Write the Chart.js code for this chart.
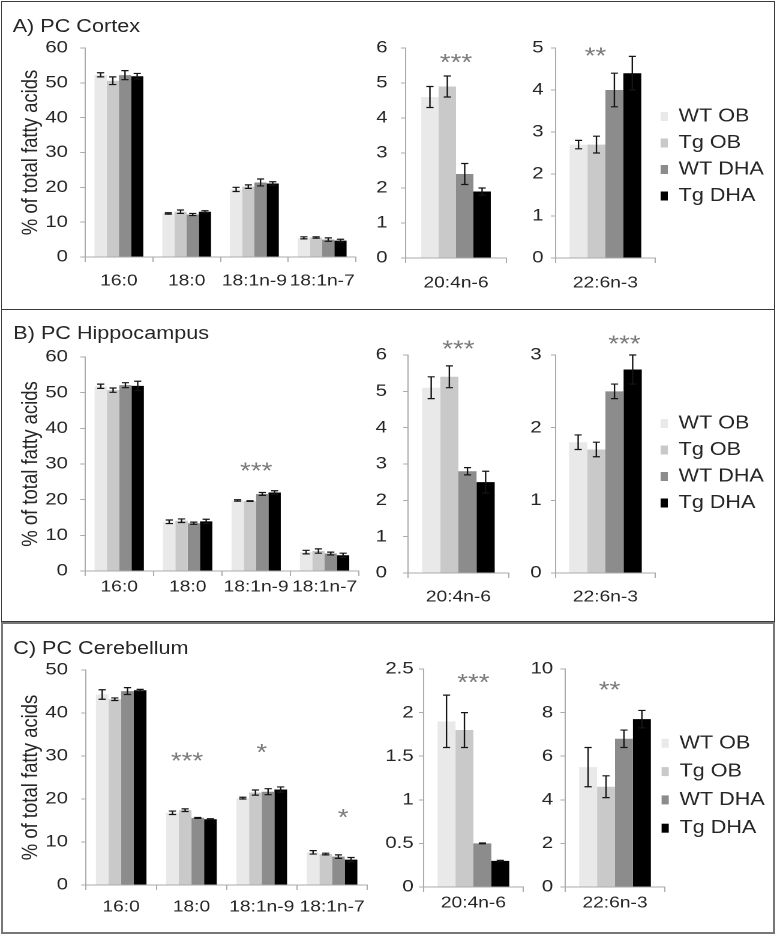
<!DOCTYPE html>
<html>
<head>
<meta charset="utf-8">
<script src="https://cdn.jsdelivr.net/npm/chart.js@4.4.1/dist/chart.umd.min.js"></script>
<style>
  html, body { margin: 0; padding: 0; background: #fff; }
  #page { position: relative; width: 777px; height: 940px; overflow: hidden; background: #fff; }
  .panel { position: absolute; left: 1px; width: 774px; box-sizing: border-box; border: 1px solid #3a3a3a; }
  #stretch { position: absolute; left: 0; top: 0; width: 648px; height: 940px; transform: scaleX(1.2); transform-origin: 0 0; }
  .title { position: absolute; font: 18px "Liberation Sans", Arial, sans-serif; line-height: 20px; color: #262626; white-space: nowrap; }
  canvas { position: absolute; }
</style>
</head>
<body>
<div id="page">
  <div class="panel" style="top:1px;height:309px"></div>
  <div class="panel" style="top:309px;height:313px"></div>
  <div class="panel" style="top:622px;height:312px;border:2px solid #777"></div>
  <div id="stretch">
    <div class="title" style="left:10.6px;top:16px">A) PC Cortex</div>
    <div class="title" style="left:11.1px;top:323px">B) PC Hippocampus</div>
    <div class="title" style="left:11.1px;top:638px">C) PC Cerebellum</div>
    <canvas id="cortexMain"></canvas>
    <canvas id="cortexAAChart"></canvas>
    <canvas id="cortexDHAChart"></canvas>
    <canvas id="cortexLegend"></canvas>
    <canvas id="hippoMain"></canvas>
    <canvas id="hippoAAChart"></canvas>
    <canvas id="hippoDHAChart"></canvas>
    <canvas id="hippoLegend"></canvas>
    <canvas id="cerebMain"></canvas>
    <canvas id="cerebAAChart"></canvas>
    <canvas id="cerebDHAChart"></canvas>
    <canvas id="cerebLegend"></canvas>
  </div>
</div>
<script>
// the original figure is wider than its lettering, so everything is drawn
// in a narrower space and stretched sideways by S
const S = 1.2;
const FONT = '"Liberation Sans", Arial, sans-serif';
const TXT = '#262626';
const AXIS = '#ababab';

const groups = ['WT OB', 'Tg OB', 'WT DHA', 'Tg DHA'];
const groupColors = ['#e9e9e9', '#c9c9c9', '#8c8c8c', '#000000'];
const majorAcids = ['16:0', '18:0', '18:1n-9', '18:1n-7'];

// one row per group, one column per fatty acid
const cortexMajor = [
  [52.3, 12.5, 19.4, 5.5],
  [50.6, 13.0, 20.2, 5.6],
  [52.2, 12.2, 21.4, 5.0],
  [51.9, 13.0, 21.1, 4.7]
];
const cortexMajorSem = [
  [0.6, 0.2, 0.6, 0.3],
  [1.1, 0.5, 0.5, 0.2],
  [1.3, 0.3, 1.0, 0.5],
  [0.8, 0.3, 0.5, 0.4]
];
const cortexAA = [4.6, 4.9, 2.4, 1.9];
const cortexAASem = [0.3, 0.3, 0.3, 0.1];
const cortexDHA = [2.7, 2.7, 4.0, 4.4];
const cortexDHASem = [0.1, 0.2, 0.4, 0.4];

const hippoMajor = [
  [51.8, 13.8, 19.8, 5.3],
  [50.7, 14.1, 19.6, 5.6],
  [52.1, 13.4, 21.6, 4.9],
  [51.9, 13.9, 22.0, 4.4]
];
const hippoMajorSem = [
  [0.6, 0.5, 0.2, 0.5],
  [0.6, 0.5, 0.1, 0.6],
  [0.7, 0.3, 0.4, 0.4],
  [1.3, 0.6, 0.5, 0.6]
];
const hippoAA = [5.1, 5.4, 2.8, 2.5];
const hippoAASem = [0.3, 0.3, 0.1, 0.3];
const hippoDHA = [1.8, 1.7, 2.5, 2.8];
const hippoDHASem = [0.1, 0.1, 0.1, 0.2];

const cerebMajor = [
  [44.3, 16.8, 20.2, 7.6],
  [43.2, 17.4, 21.5, 7.2],
  [45.1, 15.6, 21.7, 6.6],
  [45.3, 15.3, 22.2, 5.9]
];
const cerebMajorSem = [
  [1.1, 0.4, 0.2, 0.4],
  [0.3, 0.3, 0.6, 0.2],
  [0.8, 0.1, 0.7, 0.4],
  [0.2, 0.1, 0.6, 0.5]
];
const cerebAA = [1.9, 1.8, 0.5, 0.3];
const cerebAASem = [0.3, 0.2, 0.005, 0.005];
const cerebDHA = [5.5, 4.6, 6.8, 7.7];
const cerebDHASem = [0.9, 0.5, 0.4, 0.4];

// significance marks: category index, offset in bar widths, height in axis units
const cortexAAStars = [{ text: '***', cat: 0, shift: 0, y: 5.75 }];
const cortexDHAStars = [{ text: '**', cat: 0, shift: -0.55, y: 4.95 }];
const hippoMajorStars = [{ text: '***', cat: 2, shift: 0, y: 29.7 }];
const hippoAAStars = [{ text: '***', cat: 0, shift: 0, y: 6.33 }];
const hippoDHAStars = [{ text: '***', cat: 0, shift: 1.05, y: 3.23 }];
const cerebMajorStars = [
  { text: '***', cat: 1, shift: -0.35, y: 30.2 },
  { text: '*', cat: 2, shift: 0, y: 32.2 },
  { text: '*', cat: 3, shift: 0.88, y: 17.0 }
];
const cerebAAStars = [{ text: '***', cat: 0, shift: 0, y: 2.41 }];
const cerebDHAStars = [{ text: '**', cat: 0, shift: -0.3, y: 9.3 }];

Chart.defaults.font.family = FONT;

function errorBars(sems) {
  return {
    id: 'errorBars',
    afterDatasetsDraw(chart) {
      const ctx = chart.ctx;
      const y = chart.scales.y;
      ctx.save();
      ctx.strokeStyle = '#151515';
      ctx.lineWidth = 1.2;
      chart.data.datasets.forEach((ds, i) => {
        chart.getDatasetMeta(i).data.forEach((bar, j) => {
          const v = ds.data[j], e = sems[i][j];
          const top = y.getPixelForValue(v + e), bot = y.getPixelForValue(v - e);
          ctx.beginPath();
          ctx.moveTo(bar.x, top); ctx.lineTo(bar.x, bot);
          ctx.moveTo(bar.x - 3, top); ctx.lineTo(bar.x + 3, top);
          ctx.moveTo(bar.x - 3, bot); ctx.lineTo(bar.x + 3, bot);
          ctx.stroke();
        });
      });
      ctx.restore();
    }
  };
}

function stars(marks) {
  return {
    id: 'stars',
    afterDatasetsDraw(chart) {
      const ctx = chart.ctx;
      const x = chart.scales.x, y = chart.scales.y;
      const bw = chart.getDatasetMeta(0).data[0].width;
      ctx.save();
      ctx.fillStyle = '#7a7a7a';
      ctx.font = '23px ' + FONT;
      ctx.textAlign = 'center';
      ctx.textBaseline = 'alphabetic';
      marks.forEach(m => {
        const cx = x.getPixelForValue(m.cat) + m.shift * bw;
        const cy = y.getPixelForValue(m.y) + 0.58 * 23;
        const n = m.text.length;
        for (let k = 0; k < n; k++) {
          ctx.fillText('*', cx + (k - (n - 1) / 2) * 9, cy);
        }
      });
      ctx.restore();
    }
  };
}

// box: wanted plot area in page pixels
function barChart(id, box, labels, values, sems, yMax, yStep, opt) {
  const cv = document.getElementById(id);
  const padTop = 30, xH = 42, padRight = 8;
  const left = box.l / S - opt.yW;
  const plotW = Math.round(box.r / S - left);
  cv.width = plotW + padRight;
  cv.height = box.b - box.t + padTop + xH;
  cv.style.left = left + 'px';
  cv.style.top = (box.t - padTop) + 'px';

  new Chart(cv, {
    type: 'bar',
    data: {
      labels: labels,
      datasets: groups.map((g, i) => ({
        label: g,
        data: values[i],
        backgroundColor: groupColors[i],
        borderWidth: 0,
        categoryPercentage: opt.cat,
        barPercentage: 1
      }))
    },
    options: {
      responsive: false,
      animation: false,
      devicePixelRatio: 2,
      layout: { padding: { top: padTop, right: padRight, left: 0, bottom: 0 } },
      plugins: { legend: { display: false }, tooltip: { enabled: false } },
      scales: {
        x: {
          grid: { drawOnChartArea: false, tickLength: 5, color: AXIS, offset: true },
          border: { color: AXIS },
          ticks: { color: TXT, font: { size: 16 }, padding: opt.xPad, maxRotation: 0, autoSkip: false },
          afterFit: s => { s.height = xH; }
        },
        y: {
          min: 0,
          max: yMax,
          grid: { drawOnChartArea: false, tickLength: 4, color: AXIS },
          border: { color: AXIS },
          ticks: { stepSize: yStep, color: TXT, font: { size: 17 }, padding: opt.yPad, callback: v => v },
          title: {
            display: !!opt.yTitle,
            text: '% of total fatty acids',
            color: TXT,
            font: { size: 18.5 },
            padding: { top: 14.7, bottom: 0 }
          },
          afterFit: s => { s.width = opt.yW; }
        }
      }
    },
    plugins: [errorBars(sems), stars(opt.stars || [])]
  });
}

// legend-only chart; boxX and first row centre in page pixels
function legendChart(id, boxX, rowY, pad) {
  const cv = document.getElementById(id);
  cv.width = 200;
  cv.height = 150;
  cv.style.left = (boxX / S - pad) + 'px';
  cv.style.top = (rowY - pad - 9) + 'px';
  new Chart(cv, {
    type: 'bar',
    data: {
      labels: [],
      datasets: groups.map((g, i) => ({ label: g, data: [], backgroundColor: groupColors[i], borderWidth: 0 }))
    },
    options: {
      responsive: false,
      animation: false,
      devicePixelRatio: 2,
      layout: { padding: 0 },
      scales: { x: { display: false }, y: { display: false } },
      plugins: {
        tooltip: { enabled: false },
        legend: {
          position: 'left',
          align: 'start',
          labels: { boxWidth: 6, boxHeight: 9, padding: pad, color: TXT, font: { size: 18 } }
        }
      }
    }
  });
}

const single = arr => arr.map(v => [v]);

// A) cortex
barChart('cortexMain', { l: 85, r: 358, t: 48, b: 257 }, majorAcids, cortexMajor, cortexMajorSem, 60, 10,
  { yW: 85 / S, yPad: 10.2, xPad: 9.4, cat: 0.72, yTitle: true });
barChart('cortexAAChart', { l: 405, r: 506, t: 48, b: 258 }, ['20:4n-6'], single(cortexAA), single(cortexAASem), 6, 1,
  { yW: 40, yPad: 11, xPad: 10.4, cat: 0.69, stars: cortexAAStars });
barChart('cortexDHAChart', { l: 555, r: 655, t: 48, b: 258 }, ['22:6n-3'], single(cortexDHA), single(cortexDHASem), 5, 1,
  { yW: 40, yPad: 6, xPad: 10.4, cat: 0.72, stars: cortexDHAStars });
legendChart('cortexLegend', 660, 116, 8.5);

// B) hippocampus
barChart('hippoMain', { l: 85, r: 359, t: 357, b: 571 }, majorAcids, hippoMajor, hippoMajorSem, 60, 10,
  { yW: 85 / S, yPad: 10.2, xPad: 1.4, cat: 0.72, yTitle: true, stars: hippoMajorStars });
barChart('hippoAAChart', { l: 408, r: 509, t: 355, b: 573 }, ['20:4n-6'], single(hippoAA), single(hippoAASem), 6, 1,
  { yW: 40, yPad: 13.5, xPad: 9.4, cat: 0.72, stars: hippoAAStars });
barChart('hippoDHAChart', { l: 556, r: 655, t: 355, b: 573 }, ['22:6n-3'], single(hippoDHA), single(hippoDHASem), 3, 1,
  { yW: 40, yPad: 7.7, xPad: 9.4, cat: 0.73, stars: hippoDHAStars });
legendChart('hippoLegend', 660, 423, 8.5);

// C) cerebellum
barChart('cerebMain', { l: 86, r: 367, t: 670, b: 885 }, majorAcids, cerebMajor, cerebMajorSem, 50, 10,
  { yW: 86 / S, yPad: 11, xPad: 7.4, cat: 0.72, yTitle: true, stars: cerebMajorStars });
barChart('cerebAAChart', { l: 423, r: 523, t: 669, b: 887 }, ['20:4n-6'], single(cerebAA), single(cerebAASem), 2.5, 0.5,
  { yW: 40, yPad: 4.3, xPad: 1.4, cat: 0.72, stars: cerebAAStars });
barChart('cerebDHAChart', { l: 565, r: 665, t: 669, b: 887 }, ['22:6n-3'], single(cerebDHA), single(cerebDHASem), 10, 2,
  { yW: 40, yPad: 6, xPad: 1.4, cat: 0.72, stars: cerebDHAStars });
legendChart('cerebLegend', 662, 743, 10.3);
</script>
</body>
</html>
